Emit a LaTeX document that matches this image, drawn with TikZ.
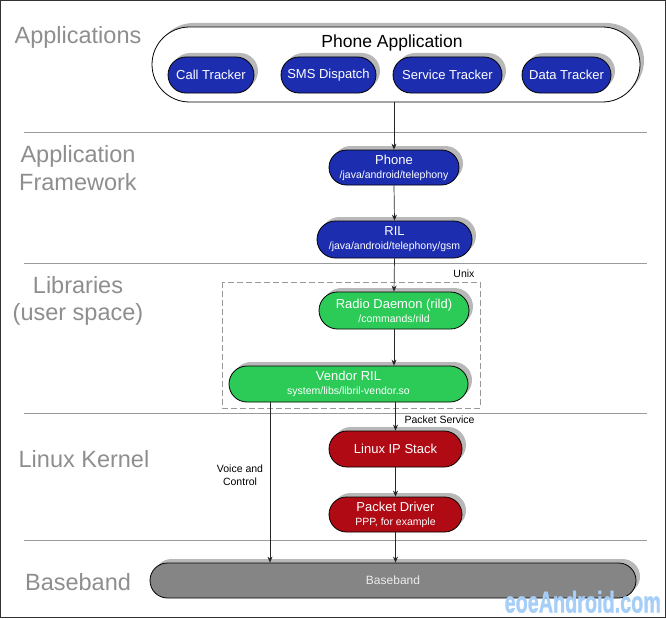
\documentclass[tikz,border=0pt]{standalone}
\usepackage{fontspec}
\setmainfont{Liberation Sans}
\newfontfamily\wmfont{Liberation Sans}[BoldFeatures={FakeBold=1.5}]
\usetikzlibrary{shapes.misc,shadows,arrows.meta}
\definecolor{pblue}{HTML}{1C2DB0}
\definecolor{pgreen}{HTML}{2CCB58}
\definecolor{pred}{HTML}{B00A14}
\definecolor{pgray}{HTML}{858585}
\definecolor{laygray}{HTML}{8E8E8E}
\definecolor{sepgray}{HTML}{9A9A9A}
\definecolor{wmblue}{HTML}{A6CEF6}
\tikzset{
  pill/.style={rounded rectangle, draw=black, line width=0.8pt, inner sep=0pt, align=center,
    text=white, font=\fontsize{13}{15}\selectfont,
    drop shadow={shadow xshift=4pt, shadow yshift=4pt, fill=black!28, opacity=1}},
  bluepill/.style={pill, fill=pblue},
  greenpill/.style={pill, fill=pgreen},
  redpill/.style={pill, fill=pred},
  graypill/.style={pill, fill=pgray, text=black!8, font=\fontsize{12}{14}\selectfont},
  layer/.style={text=laygray, font=\fontsize{23.5}{27.5}\selectfont, align=center},
  sep/.style={draw=sepgray, line width=0.9pt},
  conn/.style={draw=black!85, line width=0.7pt, -{Stealth[length=6pt,width=5pt]}},
  small/.style={font=\fontsize{10.5}{12.5}\selectfont, align=center},
}
\newcommand{\sub}[1]{\\[-1pt]{\fontsize{10.5}{12}\selectfont #1}}
\begin{document}
\begin{tikzpicture}[x=1pt,y=-1pt]
\useasboundingbox (0,0) rectangle (666,618);
\draw[black!80, line width=1pt] (0.5,0.5) rectangle (665.5,617.5);
% separators
\foreach \yy in {132,263,413,540} \draw[sep] (24,\yy) -- (647,\yy);
% layer labels
\node[layer] (lapp) at (78,37) {Applications};
\node[layer] (lfw) at (78,168) {Application\\Framework};
\node[layer] (llib) at (78,301) {Libraries\\(user space)};
\node[layer] (lker) at (84,459) {Linux Kernel};
\node[layer] (lbb) at (78,582) {Baseband};
% phone application
\node[rounded rectangle, draw=black, line width=0.8pt, fill=white, minimum width=488pt, minimum height=75pt, inner sep=0pt,
  drop shadow={shadow xshift=4pt, shadow yshift=4pt, fill=black!28, opacity=1}] (app) at (396,64.5) {};
\node[font=\fontsize{17.5}{20}\selectfont] (apptitle) at (392,43) {Phone Application};
\node[bluepill, minimum width=86pt, minimum height=36pt] (call) at (211,75) {Call Tracker};
\node[bluepill, minimum width=95pt, minimum height=36pt] (sms) at (328.5,75) {SMS Dispatch};
\node[bluepill, minimum width=109pt, minimum height=36pt] (serv) at (447.5,75) {Service Tracker};
\node[bluepill, minimum width=89pt, minimum height=36pt] (data) at (566.5,75) {Data Tracker};
% framework
\node[bluepill, minimum width=130pt, minimum height=35pt] (phone) at (394,167.5) {Phone\sub{/java/android/telephony}};
\node[bluepill, minimum width=155pt, minimum height=37pt] (ril) at (394.5,239.5) {RIL\sub{/java/android/telephony/gsm}};
% unix box
\draw[draw=black!40, dash pattern=on 6pt off 3pt, line width=0.8pt] (222,282) rectangle (480,408);
\node[small, anchor=south east] (unix) at (478,281) {Unix};
\node[greenpill, minimum width=150pt, minimum height=37pt] (rild) at (394,310.5) {Radio Daemon (rild)\sub{/commands/rild}};
\node[greenpill, minimum width=239pt, minimum height=36pt] (vendor) at (348.5,384) {Vendor RIL\sub{system/libs/libril-vendor.so}};
% kernel
\node[redpill, minimum width=133pt, minimum height=36pt] (ipstack) at (395.5,449) {Linux IP Stack};
\node[redpill, minimum width=133pt, minimum height=35pt] (pdriver) at (395.5,514.5) {Packet Driver\sub{PPP, for example}};
% baseband
\node[graypill, minimum width=486pt, minimum height=35pt] (bb) at (393,580.5) {Baseband};
% connectors
\coordinate (vc) at (270,0);
\draw[conn] (app.south -| phone.north) -- (phone.north);
\draw[conn] (phone.south) -- (ril.north);
\draw[conn] (ril.south) -- (rild.north);
\draw[conn] (rild.south) -- (rild.south |- vendor.north);
\draw[conn] (vendor.south -| ipstack.north) -- (ipstack.north);
\draw[conn] (ipstack.south) -- (pdriver.north);
\draw[conn] (pdriver.south) -- (pdriver.south |- bb.north);
\draw[conn] (vendor.south -| vc) -- (bb.north -| vc);
\node[small, anchor=south west] (pserv) at (401,427) {Packet Service};
\node[small] (voice) at (240,475) {Voice and\\Control};
% watermark
\node[text=wmblue, font=\wmfont\bfseries\fontsize{30}{32}\selectfont, xscale=0.66, anchor=south east, inner sep=0pt] (wm) at (661,613) {eoeAndroid.com};
\end{tikzpicture}
\end{document}
